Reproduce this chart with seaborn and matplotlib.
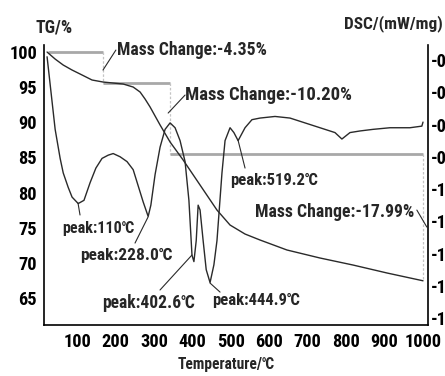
import matplotlib
matplotlib.use("Agg")
import matplotlib.pyplot as plt
import seaborn as sns
import pandas as pd

# ---------------- data ----------------
tg_temp = [22, 43, 64, 87, 108, 139, 168, 194, 220, 246, 264, 277, 290, 316, 342,
           376, 420, 464, 498, 537, 576, 646, 732, 818, 907, 1000]
tg_val = [100.0, 99.0, 98.15, 97.44, 96.87, 96.02, 95.73, 95.59, 95.45, 95.02, 94.31,
          93.31, 92.18, 89.62, 87.20, 84.64, 81.08, 77.52, 75.39, 74.11, 73.26, 71.84,
          70.70, 69.70, 68.56, 67.46]

dsc_temp = [22, 43, 56, 64, 77, 87, 103, 118, 134, 149, 165, 181, 194, 212, 230, 246,
            259, 272, 285, 292, 303, 316, 329, 342, 355, 368, 381, 391, 399, 404, 410,
            415, 420, 428, 436, 446, 456, 464, 477, 485, 498, 508, 519, 537, 555, 576,
            615, 654, 693, 732, 771, 789, 810, 836, 870, 914, 966, 997, 1000]
dsc_val = [-0.18, -0.63, -0.81, -0.90, -0.99, -1.05, -1.09, -1.07, -0.96, -0.87, -0.81,
           -0.79, -0.78, -0.80, -0.83, -0.88, -0.98, -1.08, -1.17, -1.10, -0.91, -0.74,
           -0.63, -0.59, -0.62, -0.70, -0.83, -1.07, -1.41, -1.45, -1.32, -1.10, -1.13,
           -1.32, -1.50, -1.58, -1.47, -1.32, -0.90, -0.70, -0.62, -0.65, -0.70, -0.62,
           -0.57, -0.56, -0.55, -0.56, -0.59, -0.62, -0.65, -0.69, -0.65, -0.64, -0.63,
           -0.62, -0.62, -0.61, -0.585]

# mass-change step levels
step_temp = [25, 167, 342, 1000]
step_level = [100.0, 95.65, 85.45, 67.46]
mass_changes = ["-4.35%", "-10.20%", "-17.99%"]

peak_labels = ["peak:110℃", "peak:228.0℃", "peak:402.6℃", "peak:444.9℃", "peak:519.2℃"]

x_ticks = [100, 200, 300, 400, 500, 600, 700, 800, 900, 1000]
tg_ticks = [65, 70, 75, 80, 85, 90, 95, 100]
dsc_ticks = [-0.2, -0.4, -0.6, -0.8, -1.0, -1.2, -1.4, -1.6, -1.8]

# ---------------- style ----------------
sns.set_theme(style="white")
FONT = ["Roboto Condensed", "Open Sans Condensed", "DejaVu Serif Condensed",
        "Liberation Sans Narrow", "DejaVu Sans"]
plt.rcParams["font.family"] = FONT
plt.rcParams["font.weight"] = "bold"
plt.rcParams["axes.unicode_minus"] = False

fig = plt.figure(figsize=(4.45, 3.76), dpi=100)
ax = fig.add_axes([44 / 445, 1 - 325 / 376, (428 - 44) / 445, (325 - 45) / 376])
ax2 = ax.twinx()
renderer = fig.canvas.get_renderer()


def fit(t, width_px):
    """shrink a text so that it is no wider than width_px"""
    bb = t.get_window_extent(renderer)
    if bb.width > width_px:
        t.set_fontsize(t.get_fontsize() * width_px / bb.width)
    return t


def fitted_size(sample, base, width_px):
    t = fig.text(0, 0, sample, fontsize=base, fontweight="bold", family=FONT)
    bb = t.get_window_extent(renderer)
    t.remove()
    return base * min(1.0, width_px / bb.width)


line_c = "#2a2a2a"
step_c = "#a8a8a8"

tg_df = pd.DataFrame({"T": tg_temp, "TG": tg_val})
dsc_df = pd.DataFrame({"T": dsc_temp, "DSC": dsc_val})

sns.lineplot(data=tg_df, x="T", y="TG", ax=ax, color=line_c, lw=1.0,
             sort=False, estimator=None)
sns.lineplot(data=dsc_df, x="T", y="DSC", ax=ax2, color=line_c, lw=1.0,
             sort=False, estimator=None)

# step lines for mass change
for i in range(len(step_temp) - 1):
    ax.plot([step_temp[i], step_temp[i + 1]], [step_level[i], step_level[i]],
            color=step_c, lw=2.0, solid_capstyle="butt", zorder=1)
    x_v = step_temp[i + 1]
    ax.plot([x_v, x_v], [step_level[i], step_level[i + 1]], color="#c4c4c4", lw=0.9,
            ls=(0, (2, 1.5)), zorder=1)

ax.set_xlim(14, 1013)
ax.set_ylim(61.17, 101.0)
ax2.set_ylim(-1.843, -0.107)

# mass change annotations
mc_fs = 14
ax.plot([167.5, 201], [97.44, 100.28], color=line_c, lw=0.8)
t = ax.text(204, 100.28, "Mass Change:" + mass_changes[0], fontsize=mc_fs,
            fontweight="bold", ha="left", va="center", family=FONT)
fit(t, 150)
ax.plot([337, 381], [91.32, 93.88], color=line_c, lw=0.8)
t = ax.text(382, 93.88, "Mass Change:" + mass_changes[1], fontsize=mc_fs,
            fontweight="bold", ha="left", va="center", family=FONT)
fit(t, 168)
ax.plot([984, 1010], [77.52, 75.1], color=line_c, lw=0.8)
t = ax.text(563, 77.24, "Mass Change:" + mass_changes[2], fontsize=mc_fs,
            fontweight="bold", ha="left", va="center", family=FONT)
fit(t, 160)

# peak annotations (on DSC axis)
pk_fs = 13.5
peak_from = [(102.5, -1.087), (284.6, -1.174), (399, -1.409), (446, -1.583), (518.7, -0.696)]
peak_to = [(107.7, -1.161), (250.8, -1.335), (315.8, -1.626), (472, -1.639), (537, -0.870)]
peak_text = [(62, -1.242), (108, -1.409), (165, -1.707), (451, -1.688), (498, -0.944)]
peak_w = [72, 92, 93, 88, 88]
for lab, p0, p1, pt, w in zip(peak_labels, peak_from, peak_to, peak_text, peak_w):
    ax2.plot([p0[0], p1[0]], [p0[1], p1[1]], color=line_c, lw=0.8)
    t = ax2.text(pt[0], pt[1], lab, fontsize=pk_fs, fontweight="bold",
                 ha="left", va="center", family=FONT)
    fit(t, w)

# axes / ticks
tick_fs = fitted_size("100", 16, 28)
ax.set_xticks(x_ticks)
ax.set_xticklabels([str(v) for v in x_ticks], fontweight="bold")
ax.set_yticks(tg_ticks)
ax.set_yticklabels([str(v) for v in tg_ticks], fontweight="bold")
ax2.set_yticks(dsc_ticks)
ax2.set_yticklabels([f"{v:.1f}" for v in dsc_ticks], fontweight="bold")
ax.tick_params(axis="x", length=0, pad=6, colors="black", labelsize=tick_fs)
ax.tick_params(axis="y", length=0, pad=5, colors="black", labelsize=tick_fs)
ax2.tick_params(axis="y", length=0, pad=2, colors="black", labelsize=tick_fs)

ax.set_xlabel("")
ax.set_ylabel("")
ax2.set_ylabel("")

for a in (ax, ax2):
    for s in a.spines.values():
        s.set_visible(False)
ax.spines["left"].set_visible(True)
ax.spines["bottom"].set_visible(True)
ax2.spines["right"].set_visible(True)
for s in (ax.spines["left"], ax.spines["bottom"], ax2.spines["right"]):
    s.set_color("black")
    s.set_linewidth(1.2)

t = fig.text(35 / 445, 1 - 27 / 376, "TG/%", fontsize=14, fontweight="bold",
             ha="left", va="center", family=FONT)
fit(t, 37)
t = fig.text(443 / 445, 1 - 24 / 376, "DSC/(mW/mg)", fontsize=14, fontweight="bold",
             ha="right", va="center", family=FONT)
fit(t, 99)
t = fig.text(226 / 445, 1 - 364 / 376, "Temperature/℃", fontsize=14, fontweight="bold",
             ha="center", va="center", family=FONT)
fit(t, 98)

fig.savefig("out.png", dpi=100)
